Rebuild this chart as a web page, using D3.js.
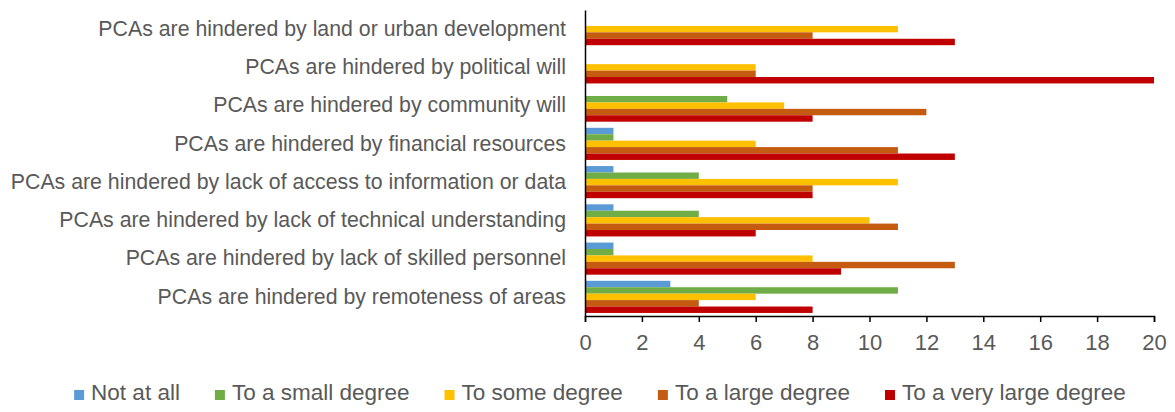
<!DOCTYPE html>
<html>
<head>
<meta charset="utf-8">
<script src="https://cdn.jsdelivr.net/npm/d3@7"></script>
<style>
  body { margin: 0; background: #fff; }
  text { font-family: Arial, "Liberation Sans", sans-serif; fill: #595959; }
</style>
</head>
<body>
<div id="chart"></div>
<script>
// Data (top to bottom as shown)
const categories = [
    "PCAs are hindered by land or urban development",
    "PCAs are hindered by political will",
    "PCAs are hindered by community will",
    "PCAs are hindered by financial resources",
    "PCAs are hindered by lack of access to information or data",
    "PCAs are hindered by lack of technical understanding",
    "PCAs are hindered by lack of skilled personnel",
    "PCAs are hindered by remoteness of areas"
]
const seriesNames = ["Not at all", "To a small degree", "To some degree", "To a large degree", "To a very large degree"]
const notAtAll     = [0, 0, 0, 1, 1, 1, 1, 3]
const smallDegree  = [0, 0, 5, 1, 4, 4, 1, 11]
const someDegree   = [11, 6, 7, 6, 11, 10, 8, 6]
const largeDegree  = [8, 6, 12, 11, 8, 11, 13, 4]
const veryLarge    = [13, 20, 8, 13, 8, 6, 9, 8]
const xTicks = [0, 2, 4, 6, 8, 10, 12, 14, 16, 18, 20]

const colors = ["#5B9BD5", "#70AD47", "#FFC000", "#C55A11", "#C00000"]
const seriesValues = [notAtAll, smallDegree, someDegree, largeDegree, veryLarge]

// Constants
const width = 1175
const height = 412
const margin = { top: 10, right: 21, bottom: 96, left: 585 }
const graphWidth = width - margin.left - margin.right
const graphHeight = height - margin.top - margin.bottom

const svg = d3.select("#chart")
    .append("svg")
    .attr("width", width)
    .attr("height", height)

const elementGroup = svg.append("g")
    .attr("transform", `translate(${margin.left}, ${margin.top})`)

// Scales
const x = d3.scaleLinear().domain([0, 20]).range([0, graphWidth])
const y0 = d3.scaleBand()
    .domain(categories)
    .range([0, graphHeight])
    .paddingInner(0.16)
    .paddingOuter(0.08)
const y1 = d3.scaleBand()
    .domain(seriesNames)
    .range([0, y0.bandwidth()])

// Bars
const rows = categories.map((c, i) => ({
    category: c,
    values: seriesNames.map((s, j) => ({ series: s, value: seriesValues[j][i], color: colors[j] }))
}))

const groups = elementGroup.selectAll(".group")
    .data(rows)
    .enter()
    .append("g")
    .attr("class", "group")
    .attr("transform", d => `translate(0, ${y0(d.category)})`)

groups.selectAll("rect")
    .data(d => d.values.filter(v => v.value > 0))
    .enter()
    .append("rect")
    .attr("x", 0)
    .attr("y", d => y1(d.series))
    .attr("width", d => x(d.value))
    .attr("height", y1.bandwidth())
    .attr("fill", d => d.color)

// Axes
const xAxis = d3.axisBottom(x)
    .tickValues(xTicks)
    .tickSizeInner(6)
    .tickSizeOuter(6)
    .tickPadding(12)
const xAxisGroup = elementGroup.append("g")
    .attr("transform", `translate(0, ${graphHeight})`)
    .call(xAxis)
xAxisGroup.selectAll("text")
    .style("font-size", "22px")
    .style("font-family", "Arial, 'Liberation Sans', sans-serif")
    .attr("fill", "#595959")
xAxisGroup.selectAll("line").attr("stroke", "#000").attr("stroke-width", 1.5)
xAxisGroup.select(".domain").attr("stroke", "#000").attr("stroke-width", 1.5)

const yAxis = d3.axisLeft(y0).tickSize(0).tickPadding(19)
const yAxisGroup = elementGroup.append("g").call(yAxis)
yAxisGroup.selectAll("text")
    .style("font-size", "21.3px")
    .style("font-family", "Arial, 'Liberation Sans', sans-serif")
    .attr("fill", "#595959")
yAxisGroup.select(".domain").attr("stroke", "#000").attr("stroke-width", 1.5)

// Legend
const legendGroup = svg.append("g")
    .attr("transform", `translate(0, 400)`)
const items = legendGroup.selectAll(".item")
    .data(seriesNames)
    .enter()
    .append("g")
    .attr("class", "item")
items.append("rect")
    .attr("y", -10)
    .attr("width", 10)
    .attr("height", 10)
    .attr("fill", (d, i) => colors[i])
items.append("text")
    .attr("x", 17)
    .attr("y", 0)
    .style("font-size", "22.5px")
    .text(d => d)

const gap = 35
let offset = 0
const positions = []
items.each(function () {
    const w = 17 + d3.select(this).select("text").node().getComputedTextLength()
    positions.push(offset)
    offset += w + gap
})
const totalWidth = offset - gap
const startX = 600 - totalWidth / 2
items.attr("transform", (d, i) => `translate(${startX + positions[i]}, 0)`)
</script>
</body>
</html>
